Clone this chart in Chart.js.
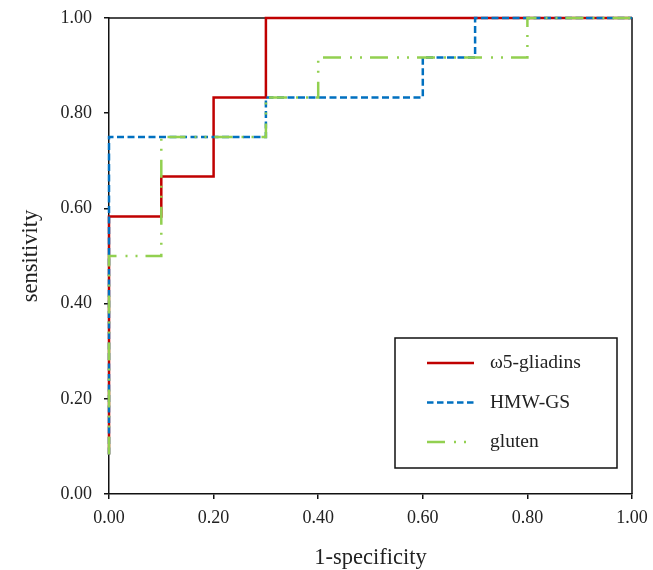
<!DOCTYPE html>
<html>
<head>
<meta charset="utf-8">
<script src="https://cdn.jsdelivr.net/npm/chart.js@4/dist/chart.umd.min.js"></script>
<style>
  html, body { margin: 0; padding: 0; background: #fff; }
  #wrap { width: 653px; height: 570px; }
</style>
</head>
<body>
<div id="wrap"><canvas id="roc"></canvas></div>
<script>
// ROC points (1-specificity, sensitivity), drawn as steps
const omegaFpr = [0, 0, 0.1, 0.2, 0.3, 1];
const omegaTpr = [0.083, 0.583, 0.667, 0.833, 1, 1];

const hmwFpr = [0, 0, 0.3, 0.6, 0.7, 1];
const hmwTpr = [0.083, 0.75, 0.833, 0.917, 1, 1];

const glutenFpr = [0, 0, 0.1, 0.3, 0.4, 0.8, 1];
const glutenTpr = [0.083, 0.5, 0.75, 0.833, 0.917, 1, 1];

const seriesLabels = ["ω5-gliadins", "HMW-GS", "gluten"];
const axisTicks = [0, 0.2, 0.4, 0.6, 0.8, 1.0];

const FONT = "'Liberation Serif', 'Times New Roman', serif";

function toPoints(xs, ys) {
  return xs.map((x, i) => ({ x: x, y: ys[i] }));
}

// box around the plot area (top / right edges)
const frameBox = {
  id: "frameBox",
  beforeDatasetsDraw(chart) {
    const { ctx, chartArea: a } = chart;
    ctx.save();
    ctx.strokeStyle = "#111";
    ctx.lineWidth = 1.5;
    ctx.beginPath();
    ctx.moveTo(a.left, a.top);
    ctx.lineTo(a.right, a.top);
    ctx.lineTo(a.right, a.bottom);
    ctx.stroke();
    ctx.restore();
  },
};

// legend drawn inside the plot, lower right, with a frame
const boxLegend = {
  id: "boxLegend",
  afterDraw(chart) {
    const { ctx } = chart;
    const left = 395, top = 338, width = 222, height = 130;
    ctx.save();
    ctx.fillStyle = "#fff";
    ctx.fillRect(left, top, width, height);
    ctx.strokeStyle = "#111";
    ctx.lineWidth = 1.5;
    ctx.strokeRect(left, top, width, height);
    chart.data.datasets.forEach((ds, i) => {
      const y = 363 + i * 39.5;
      ctx.strokeStyle = ds.borderColor;
      ctx.lineWidth = ds.borderWidth;
      ctx.setLineDash(ds.legendDash || ds.borderDash || []);
      ctx.beginPath();
      ctx.moveTo(427, y);
      ctx.lineTo(474, y);
      ctx.stroke();
      ctx.setLineDash([]);
      ctx.fillStyle = "#222";
      ctx.font = "19.5px " + FONT;
      ctx.textBaseline = "middle";
      ctx.fillText(ds.label, 490, y);
    });
    ctx.restore();
  },
};

new Chart(document.getElementById("roc"), {
  type: "scatter",
  data: {
    datasets: [
      {
        label: seriesLabels[0],
        data: toPoints(omegaFpr, omegaTpr),
        borderColor: "#C00000",
        borderWidth: 2.5,
        showLine: true,
        stepped: "before",
        pointRadius: 0,
        order: 3,
      },
      {
        label: seriesLabels[1],
        data: toPoints(hmwFpr, hmwTpr),
        borderColor: "#0070C0",
        borderWidth: 2.5,
        borderDash: [7, 3.5],
        legendDash: [6.5, 3.5],
        showLine: true,
        stepped: "before",
        pointRadius: 0,
        order: 2,
      },
      {
        label: seriesLabels[2],
        data: toPoints(glutenFpr, glutenTpr),
        borderColor: "#92D050",
        borderWidth: 2.5,
        borderDash: [18, 9, 2, 8, 2, 8],
        legendDash: [18, 9, 2, 8, 2, 8],
        showLine: true,
        stepped: "before",
        pointRadius: 0,
        order: 1,
      },
    ],
  },
  options: {
    responsive: true,
    maintainAspectRatio: false,
    animation: false,
    clip: false,
    layout: { padding: { left: 19, right: 21, top: 18, bottom: 0 } },
    plugins: { legend: { display: false }, tooltip: { enabled: false } },
    scales: {
      x: {
        type: "linear",
        min: 0,
        max: 1,
        afterBuildTicks: (scale) => {
          scale.ticks = axisTicks.map((v) => ({ value: v }));
        },
        afterFit: (scale) => {
          scale.height = 76;
          scale.paddingLeft = 0;
          scale.paddingRight = 0;
        },
        ticks: {
          color: "#222",
          font: { family: FONT, size: 18 },
          padding: 8,
          maxRotation: 0,
          callback: (v) => Number(v).toFixed(2),
        },
        grid: {
          drawOnChartArea: false,
          drawTicks: true,
          tickLength: 5,
          color: "#111",
          lineWidth: 1.5,
        },
        border: { color: "#111", width: 1.5 },
        title: {
          display: true,
          text: "1-specificity",
          color: "#222",
          font: { family: FONT, size: 22.5, lineHeight: 1.05 },
          padding: { top: 0, bottom: 0 },
        },
      },
      y: {
        type: "linear",
        min: 0,
        max: 1,
        afterBuildTicks: (scale) => {
          scale.ticks = axisTicks.map((v) => ({ value: v }));
        },
        afterFit: (scale) => {
          scale.width = 90;
          scale.paddingTop = 0;
          scale.paddingBottom = 0;
        },
        ticks: {
          color: "#222",
          font: { family: FONT, size: 18 },
          padding: 12,
          callback: (v) => Number(v).toFixed(2),
        },
        grid: {
          drawOnChartArea: false,
          drawTicks: true,
          tickLength: 5,
          color: "#111",
          lineWidth: 1.5,
        },
        border: { color: "#111", width: 1.5 },
        title: {
          display: true,
          text: "sensitivity",
          color: "#222",
          font: { family: FONT, size: 22.5, lineHeight: 1.05 },
          padding: { top: 0, bottom: 0 },
        },
      },
    },
  },
  plugins: [frameBox, boxLegend],
});
</script>
</body>
</html>
